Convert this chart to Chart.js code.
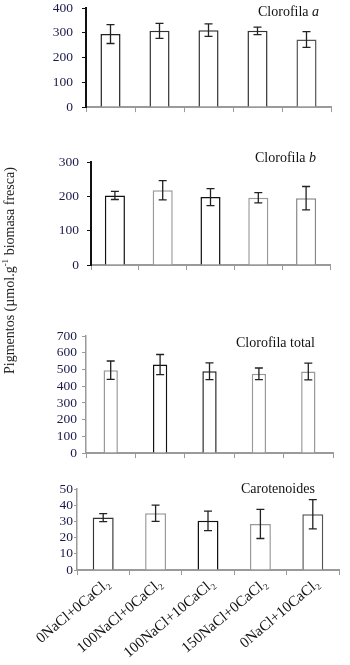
<!DOCTYPE html>
<html>
<head>
<meta charset="utf-8">
<script src="https://cdn.jsdelivr.net/npm/chart.js@4/dist/chart.umd.min.js"></script>
<style>
    body { margin: 0; width: 350px; height: 665px; background: #fff; position: relative; overflow: hidden; font-family: "Liberation Serif", serif; }
    .panel { position: absolute; left: 0; width: 350px; }
    .title { position: absolute; font-size: 14px; line-height: 16px; color: #111; white-space: nowrap; }
    #ytitle { position: absolute; left: 2px; top: 374px; transform: rotate(-90deg); transform-origin: 0 0; font-size: 14px; line-height: 16px; font-weight: 400; color: #222; white-space: nowrap; }
    #ytitle sup { font-size: 9px; line-height: 0; }
</style>
</head>
<body>
<div class="panel" id="boxA"><canvas id="chartA"></canvas></div>
<div class="panel" id="boxB"><canvas id="chartB"></canvas></div>
<div class="panel" id="boxTotal"><canvas id="chartTotal"></canvas></div>
<div class="panel" id="boxCarot"><canvas id="chartCarot"></canvas></div>

<div class="title" style="left:258px;top:4px">Clorofila <i>a</i></div>
<div class="title" style="left:255px;top:150px">Clorofila <i>b</i></div>
<div class="title" style="left:236px;top:335px">Clorofila total</div>
<div class="title" style="left:241px;top:481px">Carotenoides</div>
<div id="ytitle">Pigmentos (µmol.g<sup>-1</sup> biomasa fresca)</div>

<script>
const categories = ['0NaCl+0CaCl₂', '100NaCl+0CaCl₂', '100NaCl+10CaCl₂', '150NaCl+0CaCl₂', '0NaCl+10CaCl₂'];

const clorofilaA = [295, 308, 311, 308, 273];
const clorofilaAErr = [38, 30, 25, 15, 32];
const clorofilaB = [203, 218, 198, 196, 195];
const clorofilaBErr = [12, 28, 25, 15, 34];
const clorofilaTotal = [496, 530, 490, 474, 488];
const clorofilaTotalErr = [55, 60, 50, 35, 50];
const carotenoides = [32.4, 35.1, 30.4, 28.5, 34.5];
const carotenoidesErr = [2.5, 5, 6, 9, 9];

const tickColor = '#1b1b4b';
const axisGray = '#9a9a9a';
const tickFontSize = 13.5;

// error bars drawn from the y scale of each chart
const errorBars = {
    id: 'errorBars',
    afterDatasetsDraw(chart) {
        const ctx = chart.ctx;
        const yScale = chart.scales.y;
        const ds = chart.data.datasets[0];
        const meta = chart.getDatasetMeta(0);
        ctx.save();
        ctx.strokeStyle = '#222';
        ctx.lineWidth = 1.3;
        meta.data.forEach((bar, i) => {
            const v = ds.data[i];
            const e = ds.errors[i];
            const yTop = yScale.getPixelForValue(v + e);
            const yBot = yScale.getPixelForValue(v - e);
            const x = bar.x;
            ctx.beginPath();
            ctx.moveTo(x, yTop); ctx.lineTo(x, yBot);
            ctx.moveTo(x - 4, yTop); ctx.lineTo(x + 4, yTop);
            ctx.moveTo(x - 4, yBot); ctx.lineTo(x + 4, yBot);
            ctx.stroke();
        });
        ctx.restore();
    }
};

function makePanel(id, boxId, values, errors, p) {
    // the y scale reserves half a label height plus tick padding above and below the plot
    const edge = tickFontSize * 1.2 / 2 + p.tickPad;
    const box = document.getElementById(boxId);
    const top = p.plotTop - edge;
    const bottom = p.showLabels ? 665 : p.plotBottom + edge;
    box.style.top = top + 'px';
    box.style.height = (bottom - top) + 'px';

    return new Chart(document.getElementById(id), {
        type: 'bar',
        data: {
            labels: categories,
            datasets: [{
                data: values,
                errors: errors,
                backgroundColor: '#fff',
                borderColor: p.barBorders,
                borderWidth: 1.5,
                barPercentage: p.barPct,
                categoryPercentage: 1
            }]
        },
        options: {
            responsive: true,
            maintainAspectRatio: false,
            animation: false,
            layout: { padding: { left: 0, right: p.padRight, top: 0, bottom: 0 } },
            plugins: { legend: { display: false }, tooltip: { enabled: false } },
            scales: {
                x: {
                    afterFit: scale => { scale.height = p.showLabels ? 665 - p.plotBottom : 8; },
                    border: { color: axisGray, width: 2 },
                    grid: { drawOnChartArea: false, color: axisGray, tickLength: 5, offset: true },
                    ticks: {
                        display: p.showLabels,
                        autoSkip: false,
                        minRotation: 40,
                        maxRotation: 40,
                        padding: 0,
                        labelOffset: 5,
                        color: '#111',
                        font: { family: 'Liberation Serif', size: 15 }
                    }
                },
                y: {
                    min: 0,
                    max: p.max,
                    afterFit: scale => { scale.width = p.axisX; },
                    border: { color: p.yColor, width: p.yWidth },
                    grid: { drawOnChartArea: false, color: p.yColor, tickLength: p.tickLen },
                    ticks: {
                        stepSize: p.step,
                        autoSkip: false,
                        padding: p.tickPad,
                        color: tickColor,
                        font: { family: 'Liberation Serif', size: tickFontSize }
                    }
                }
            }
        },
        plugins: [errorBars]
    });
}

makePanel('chartA', 'boxA', clorofilaA, clorofilaAErr, {
    max: 400, step: 100, axisX: 86, padRight: 19, plotTop: 8, plotBottom: 107,
    barPct: 0.41, showLabels: false, yColor: '#111', yWidth: 2, tickLen: 4, tickPad: 9,
    barBorders: ['#222', '#333', '#333', '#333', '#555']
});
makePanel('chartB', 'boxB', clorofilaB, clorofilaBErr, {
    max: 300, step: 100, axisX: 91, padRight: 20, plotTop: 162, plotBottom: 265,
    barPct: 0.42, showLabels: false, yColor: '#111', yWidth: 2, tickLen: 4, tickPad: 8,
    barBorders: ['#111', '#999', '#111', '#999', '#888']
});
makePanel('chartTotal', 'boxTotal', clorofilaTotal, clorofilaTotalErr, {
    max: 700, step: 100, axisX: 86, padRight: 17, plotTop: 336, plotBottom: 453,
    barPct: 0.29, showLabels: false, yColor: axisGray, yWidth: 1.5, tickLen: 4, tickPad: 5,
    barBorders: ['#999', '#111', '#222', '#999', '#999']
});
makePanel('chartCarot', 'boxCarot', carotenoides, carotenoidesErr, {
    max: 50, step: 10, axisX: 77, padRight: 11, plotTop: 489, plotBottom: 570,
    barPct: 0.4, showLabels: true, yColor: axisGray, yWidth: 1.5, tickLen: 3, tickPad: 1,
    barBorders: ['#333', '#999', '#111', '#999', '#555']
});
</script>
</body>
</html>
